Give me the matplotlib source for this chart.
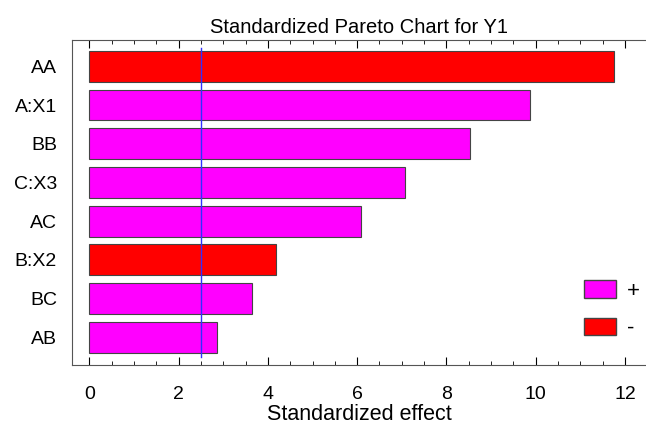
import matplotlib
matplotlib.use("Agg")
import matplotlib.pyplot as plt
from matplotlib.patches import Patch
from matplotlib.ticker import MultipleLocator

# effects, top to bottom
terms = ["AA", "A:X1", "BB", "C:X3", "AC", "B:X2", "BC", "AB"]
effects = [11.76, 9.88, 8.53, 7.08, 6.09, 4.19, 3.65, 2.87]
signs = ["-", "+", "+", "+", "+", "-", "+", "+"]
critical = 2.5

colors = {"+": "#ff00ff", "-": "#ff0000"}

plt.rcParams["font.family"] = ["Liberation Sans", "DejaVu Sans"]

fig = plt.figure(figsize=(6.46, 4.30), dpi=100)
ax = fig.add_axes([0.112, 0.151, 0.888, 0.756])

ypos = list(range(len(terms)))
ax.barh(ypos, effects, height=0.8, color=[colors[s] for s in signs],
        edgecolor="#444444", linewidth=0.8)
ax.axvline(critical, color="#3030ff", linewidth=1.0, ymin=0.025, ymax=0.975)

ax.set_yticks(ypos)
ax.set_yticklabels(terms, fontsize=14)
ax.set_ylim(len(terms) - 1 + 0.72, -0.68)
ax.set_xlim(-0.38, 12.47)
ax.xaxis.set_major_locator(MultipleLocator(2))
ax.xaxis.set_minor_locator(MultipleLocator(0.5))
ax.tick_params(axis="x", which="both", direction="in", top=True, labelsize=14, pad=15)
ax.tick_params(axis="x", which="major", length=6)
ax.tick_params(axis="x", which="minor", length=3)
ax.tick_params(axis="y", length=0, pad=11)
ax.spines["right"].set_visible(False)
for s in ["left", "bottom", "top"]:
    ax.spines[s].set_color("#555555")

ax.set_xlabel("Standardized effect", fontsize=15.5, labelpad=1)
ax.set_title("Standardized Pareto Chart for Y1", fontsize=14.5, pad=5)

handles = [Patch(facecolor=colors["+"], edgecolor="#444444", label="+"),
           Patch(facecolor=colors["-"], edgecolor="#444444", label="-")]
ax.legend(handles=handles, loc="center left", bbox_to_anchor=(0.857, 0.17),
          frameon=False, fontsize=16, handlelength=1.45, handleheight=0.85,
          handletextpad=0.5, labelspacing=0.7)

fig.savefig("out.png", dpi=100)
